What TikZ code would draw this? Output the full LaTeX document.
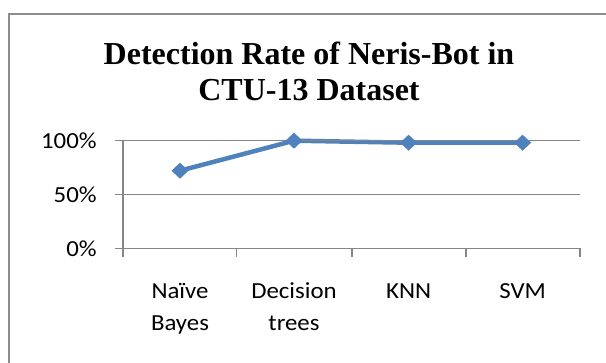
\documentclass[tikz,border=0pt]{standalone}
\usepackage{fontspec}
\setmainfont{Liberation Serif}
\newfontfamily\labelfont[FakeStretch=1.08]{Carlito}
\usetikzlibrary{shapes.geometric,calc,backgrounds}
\definecolor{gridgray}{RGB}{134,134,134}
\definecolor{framegray}{RGB}{140,140,140}
\definecolor{serieblue}{RGB}{79,129,189}

\begin{document}
\begin{tikzpicture}[x=1pt,y=-1pt,
	every node/.style={inner sep=0pt,outer sep=0pt},
	grid/.style={draw=gridgray,line width=1.4pt},
	lab/.style={font=\labelfont\fontsize{23}{31.7}\selectfont},
	point/.style={diamond,fill=serieblue,minimum width=17pt,minimum height=16pt}]
\useasboundingbox (0,0) rectangle (606,362);
\clip (0,0) rectangle (606,362);

% chart frame
\draw[framegray,line width=2pt] (8.5,14) rectangle (640,400);

% title
\node (title) [align=center,anchor=base,font=\bfseries\fontsize{32}{36}\selectfont] at (309,100)
	{Detection Rate of Neris-Bot in\\CTU-13 Dataset};

% axes and gridlines
\draw[grid] (115,140.7) -- (580,140.7);
\draw[grid] (115,194.3) -- (580,194.3);
\draw[grid] (115,248.3) -- (580,248.3);
\draw[grid] (123,140.7) -- (123,256.7);
\draw[grid] (236.6,248.3) -- (236.6,256.7);
\draw[grid] (351.8,248.3) -- (351.8,256.7);
\draw[grid] (465.8,248.3) -- (465.8,256.7);
\draw[grid] (580,248.3) -- (580,256.7);

% value labels
\node (l100) [lab,anchor=east] at (96.6,140.7) {100\%};
\node (l50) [lab,anchor=east] at (96.6,194.3) {50\%};
\node (l0) [lab,anchor=east] at (96.6,248.3) {0\%};

% category labels
\node (cNB) [lab,align=center,anchor=base] at (180,330) {Naïve\\Bayes};
\node (cDT) [lab,align=center,anchor=base] at (294,330) {Decision\\trees};
\node (cKNN) [lab,anchor=base] at (408.6,298.3) {KNN};
\node (cSVM) [lab,anchor=base] at (522.6,298.3) {SVM};

% detection rate series
\node (pNB) [point] at (180,170.7) {};
\node (pDT) [point] at (294,140.7) {};
\node (pKNN) [point] at (408.6,142.7) {};
\node (pSVM) [point] at (522.6,142.7) {};
\begin{pgfonlayer}{background}
\fill[white] (0,0) rectangle (606,362);
\draw[serieblue,line width=4.5pt,line join=round] (pNB.center) -- (pDT.center) -- (pKNN.center) -- (pSVM.center);
\end{pgfonlayer}
\end{tikzpicture}
\end{document}
